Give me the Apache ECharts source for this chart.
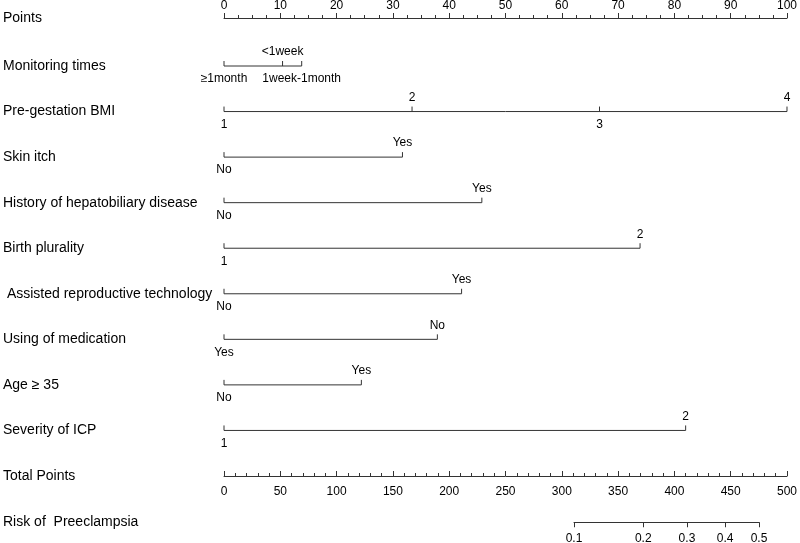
<!DOCTYPE html>
<html>
<head>
<meta charset="utf-8">
<script src="https://cdn.jsdelivr.net/npm/echarts@6/dist/echarts.min.js"></script>
<style>html,body{margin:0;padding:0;background:#fff;}#c{width:800px;height:543px;}</style>
</head>
<body>
<div id="c"></div>
<script>
// ---- data ----
const rowTitles = ['Monitoring times','Pre-gestation BMI','Skin itch','History of hepatobiliary disease','Birth plurality',' Assisted reproductive technology','Using of medication','Age \u2265 35','Severity of ICP','Total Points'];
const monitoringLevels = ['\u22651month','<1week','1week-1month'];
const monitoringPoints = [0, 10.4, 13.8];
const bmiLevels = ['1','2','3','4'];
const bmiPoints = [0, 33.4, 66.7, 100];
const skinLevels = ['No','Yes'];
const skinPoints = [0, 31.7];
const hepatoLevels = ['No','Yes'];
const hepatoPoints = [0, 45.8];
const pluralityLevels = ['1','2'];
const pluralityPoints = [0, 73.9];
const artLevels = ['No','Yes'];
const artPoints = [0, 42.2];
const medicationLevels = ['Yes','No'];
const medicationPoints = [0, 37.9];
const ageLevels = ['No','Yes'];
const agePoints = [0, 24.4];
const icpLevels = ['1','2'];
const icpPoints = [0, 82.0];
const riskLabels = ['0.1','0.2','0.3','0.4','0.5'];
const riskPoints = [308.6, 370.0, 408.8, 442.7, 472.7];

const variables = [
  [monitoringLevels, monitoringPoints],
  [bmiLevels, bmiPoints],
  [skinLevels, skinPoints],
  [hepatoLevels, hepatoPoints],
  [pluralityLevels, pluralityPoints],
  [artLevels, artPoints],
  [medicationLevels, medicationPoints],
  [ageLevels, agePoints],
  [icpLevels, icpPoints]
];

const FONT = "'Liberation Sans', Arial, Helvetica, sans-serif";
const LINE = '#333';
const TITLE_SIZE = 14;

const chart = echarts.init(document.getElementById('c'), null, {renderer:'canvas'});

function renderItem(params, api) {
  const idx = params.dataIndex;
  const levels = variables[idx][0];
  const pts = variables[idx][1];
  const row = idx + 1;
  const children = [];
  const p0 = api.coord([pts[0], row]);
  const p1 = api.coord([pts[pts.length - 1], row]);
  children.push({type:'line', shape:{x1:p0[0], y1:p0[1], x2:p1[0], y2:p1[1]}, style:{stroke:LINE, lineWidth:1}});
  for (let k = 0; k < pts.length; k++) {
    const p = api.coord([pts[k], row]);
    children.push({type:'line', shape:{x1:p[0], y1:p[1], x2:p[0], y2:p[1] - 5}, style:{stroke:LINE, lineWidth:1}});
    const above = (k % 2 === 1);
    children.push({type:'text', x:p[0], y: above ? p[1] - 8 : p[1] + 7,
      style:{text:levels[k], fill:'#000', font:'12px ' + FONT, align:'center', verticalAlign: above ? 'bottom' : 'top'}});
  }
  return {type:'group', children};
}

const tickStyle = {color: LINE, width: 1};
const option = {
  animation: false,
  backgroundColor: '#fff',
  grid: [
    {left: 223, right: 10, top: 17, height: 1},
    {left: 223, right: 10, top: 66, bottom: 67},
    {left: 573, right: 41, top: 522, bottom: 20}
  ],
  xAxis: [
    {gridIndex:0, type:'value', position:'top', min:0, max:100, interval:10,
     axisLine:{show:true, onZero:false, lineStyle:tickStyle},
     axisTick:{show:true, length:5, lineStyle:tickStyle},
     minorTick:{show:true, splitNumber:4, length:3, lineStyle:tickStyle},
     axisLabel:{margin:6, fontSize:12, color:'#000', fontFamily:FONT},
     splitLine:{show:false}},
    {gridIndex:1, type:'value', position:'top', min:0, max:100, show:false},
    {gridIndex:1, type:'value', position:'bottom', min:0, max:500, interval:50,
     axisLine:{show:true, onZero:false, lineStyle:tickStyle},
     axisTick:{show:true, inside:true, length:5, lineStyle:tickStyle},
     minorTick:{show:true, splitNumber:5, length:3, lineStyle:tickStyle},
     axisLabel:{margin:10, fontSize:12, color:'#000', fontFamily:FONT},
     splitLine:{show:false}},
    {gridIndex:2, type:'value', position:'bottom', min:riskPoints[0], max:riskPoints[riskPoints.length-1],
     axisLine:{show:true, onZero:false, lineStyle:tickStyle},
     axisTick:{show:true, length:5, lineStyle:tickStyle, customValues:riskPoints},
     axisLabel:{margin:10, fontSize:12, color:'#000', fontFamily:FONT, customValues:riskPoints,
       formatter: function (v) {
         for (let i = 0; i < riskPoints.length; i++) if (Math.abs(riskPoints[i] - v) < 1e-6) return riskLabels[i];
         return '';
       }},
     splitLine:{show:false}}
  ],
  yAxis: [
    {gridIndex:0, type:'category', data:['Points'],
     axisLine:{show:false}, axisTick:{show:false}, splitLine:{show:false},
     axisLabel:{align:'left', margin:221, fontSize:TITLE_SIZE, color:'#000', fontFamily:FONT}},
    {gridIndex:1, type:'value', min:1, max:10, interval:1, inverse:true,
     axisLine:{show:false}, axisTick:{show:false}, splitLine:{show:false},
     axisLabel:{align:'left', margin:221, fontSize:TITLE_SIZE, color:'#000', fontFamily:FONT,
       formatter: function (v) { return rowTitles[Math.round(v) - 1] || ''; }}},
    {gridIndex:2, type:'category', data:['Risk of  Preeclampsia'],
     axisLine:{show:false}, axisTick:{show:false}, splitLine:{show:false},
     axisLabel:{align:'left', margin:571, fontSize:TITLE_SIZE, color:'#000', fontFamily:FONT}}
  ],
  series: [
    {type:'custom', coordinateSystem:'cartesian2d', xAxisIndex:1, yAxisIndex:1, clip:false,
     renderItem: renderItem, data: variables.map((v, i) => [0, i + 1]), silent:true}
  ]
};
chart.setOption(option);
</script>
</body>
</html>
